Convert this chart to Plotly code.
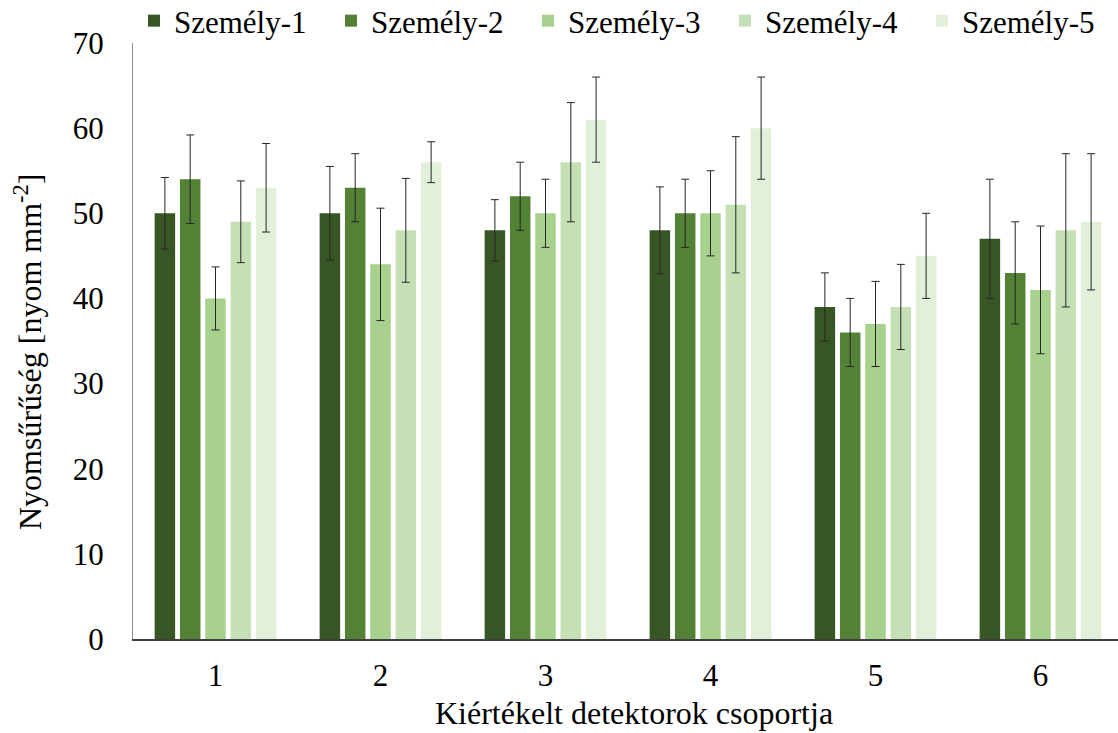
import plotly.graph_objects as go

# Detector groups on the x axis
groups = [1, 2, 3, 4, 5, 6]
tick_labels = ["1", "2", "3", "4", "5", "6"]

# Track density per person (mean) and its standard deviation
names = ["Személy-1", "Személy-2", "Személy-3", "Személy-4", "Személy-5"]
szemely_1 = [50, 50, 48, 48, 39, 47]
szemely_2 = [54, 53, 52, 50, 36, 43]
szemely_3 = [40, 44, 50, 50, 37, 41]
szemely_4 = [49, 48, 56, 51, 39, 48]
szemely_5 = [53, 56, 61, 60, 45, 49]

hiba_1 = [4.2, 5.5, 3.6, 5.1, 4.0, 7.0]
hiba_2 = [5.2, 4.0, 4.0, 4.0, 4.0, 6.0]
hiba_3 = [3.7, 6.6, 4.0, 5.0, 5.0, 7.5]
hiba_4 = [4.8, 6.1, 7.0, 8.0, 5.0, 9.0]
hiba_5 = [5.2, 2.4, 5.0, 6.0, 5.0, 8.0]

colors = ["#375623", "#538135", "#a9d18e", "#c5e0b4", "#e2f0d9"]

values = [szemely_1, szemely_2, szemely_3, szemely_4, szemely_5]
errors = [hiba_1, hiba_2, hiba_3, hiba_4, hiba_5]

FONT = "Times New Roman, Liberation Serif, serif"

# Plot area in pixels (used to place the axis titles)
W, H = 1118, 733
L, R, T, B = 133, 0, 43, 94
PW, PH = W - L - R, H - T - B

fig = go.Figure()
for name, vals, errs, col in zip(names, values, errors, colors):
    fig.add_trace(go.Bar(
        x=groups,
        y=vals,
        name=name,
        marker=dict(color=col, line=dict(width=0)),
        error_y=dict(type="data", array=errs, visible=True,
                     color="#262626", thickness=1, width=4),
    ))

fig.update_layout(
    width=W,
    height=H,
    margin=dict(l=L, r=R, t=T, b=B, autoexpand=False),
    paper_bgcolor="white",
    plot_bgcolor="white",
    barmode="group",
    bargap=0.233,
    bargroupgap=0.19,
    font=dict(family=FONT, size=31, color="#000000"),
    showlegend=True,
    legend=dict(
        orientation="h",
        xref="paper", yref="paper",
        x=0.001, y=1 + 49 / PH, xanchor="left", yanchor="top",
        entrywidth=152, entrywidthmode="pixels",
        font=dict(family=FONT, size=31, color="#000000"),
        bgcolor="rgba(0,0,0,0)",
        traceorder="normal",
    ),
    xaxis=dict(
        range=[0.5, 0.5 + PW / 165],
        tickmode="array",
        tickvals=groups,
        ticktext=tick_labels,
        tickfont=dict(family=FONT, size=31, color="#000000"),
        showgrid=False,
        zeroline=False,
        showline=True,
        linecolor="#404040",
        linewidth=1.5,
        ticks="",
        ticklabelstandoff=8,
    ),
    yaxis=dict(
        range=[0, 70],
        tickmode="array",
        tickvals=[0, 10, 20, 30, 40, 50, 60, 70],
        tickfont=dict(family=FONT, size=31, color="#000000"),
        showgrid=False,
        zeroline=False,
        showline=True,
        linecolor="#8c8c8c",
        linewidth=1,
        ticks="",
        ticklabelstandoff=22,
    ),
    annotations=[
        dict(
            text="Kiértékelt detektorok csoportja",
            xref="paper", yref="paper",
            x=(634 - L) / PW, y=-(713 - (H - B)) / PH,
            xanchor="center", yanchor="middle",
            showarrow=False,
            font=dict(family=FONT, size=32, color="#000000"),
        ),
        dict(
            text="Nyomsűrűség [nyom mm<sup>-2</sup>]",
            xref="paper", yref="paper",
            x=-(L - 28) / PW, y=((H - B) - 352) / PH,
            xanchor="center", yanchor="middle",
            textangle=-90,
            showarrow=False,
            font=dict(family=FONT, size=32, color="#000000"),
        ),
    ],
)

fig.write_html("out.html")
